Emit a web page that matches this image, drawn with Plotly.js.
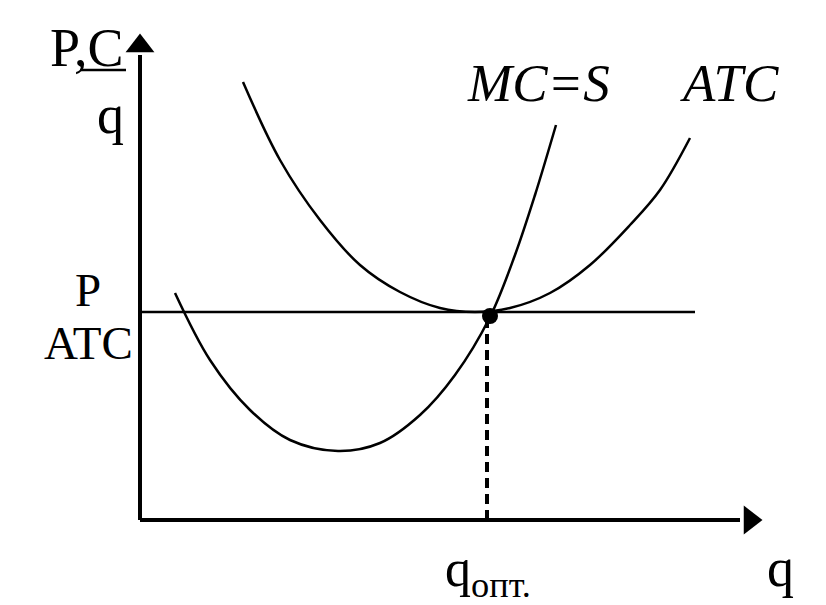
<!DOCTYPE html>
<html>
<head>
<meta charset="utf-8">
<script src="https://cdn.plot.ly/plotly-3.0.1.min.js"></script>
<style>html,body{margin:0;padding:0;background:#fff;}#chart{width:826px;height:605px;}</style>
</head>
<body>
<div id="chart"></div>
<script>
// Marginal cost (MC = S) curve: quantity vs cost
const mcQ = [35, 70, 110, 150, 198, 240, 280, 315, 350, 375, 395, 416];
const mcC = [227, 160, 110, 80, 69, 77, 105, 145, 203, 265, 325, 395];
// Average total cost (ATC) curve
const atcQ = [103, 140, 180, 220, 260, 300, 335, 370, 410, 450, 490, 520, 550];
const atcC = [438, 360, 300, 255, 228, 212, 208, 212, 227, 255, 295, 330, 382];
// Price level (P = min ATC) and optimal quantity
const priceLevel = 208;
const priceQ = [0, 555];
const qOpt = 347;
const eqC = 204;
// Axis extents
const qAxisMax = 600;
const cAxisMax = 465;

const lineStyle = {color: '#000', width: 2.5};

const traces = [
  {x: mcQ, y: mcC, mode: 'lines', line: Object.assign({shape: 'spline'}, lineStyle), hoverinfo: 'skip'},
  {x: atcQ, y: atcC, mode: 'lines', line: Object.assign({shape: 'spline'}, lineStyle), hoverinfo: 'skip'},
  {x: priceQ, y: [priceLevel, priceLevel], mode: 'lines', line: lineStyle, hoverinfo: 'skip'},
  {x: [qOpt, qOpt], y: [0, eqC], mode: 'lines', line: {color: '#000', width: 4, dash: '10px,6px'}, hoverinfo: 'skip'},
  {x: [qOpt + 3], y: [eqC], mode: 'markers', marker: {color: '#000', size: 16}, hoverinfo: 'skip'},
  // axes
  {x: [0, 0], y: [0, cAxisMax], mode: 'lines', line: {color: '#000', width: 4}, hoverinfo: 'skip'},
  {x: [0, qAxisMax], y: [0, 0], mode: 'lines', line: {color: '#000', width: 4}, hoverinfo: 'skip'},
  {x: [0], y: [cAxisMax + 9], mode: 'markers', marker: {symbol: 'triangle-up', color: '#000', size: 25}, hoverinfo: 'skip'},
  {x: [qAxisMax + 10], y: [0], mode: 'markers', marker: {symbol: 'triangle-right', color: '#000', size: 25}, hoverinfo: 'skip'}
];

const serif = 'Liberation Serif';
function ann(x, y, text, size, italic, anchor) {
  return {x: x, y: y, xref: 'x', yref: 'y', text: italic ? '<i>' + text + '</i>' : text,
    showarrow: false, xanchor: anchor || 'center', yanchor: 'middle',
    font: {family: serif, size: size, color: '#000'}};
}

const layout = {
  width: 826, height: 605,
  margin: {l: 0, r: 0, t: 0, b: 0},
  paper_bgcolor: '#fff', plot_bgcolor: '#fff',
  showlegend: false,
  font: {family: serif},
  xaxis: {range: [-140, 686], visible: false, fixedrange: true},
  yaxis: {range: [-85, 520], visible: false, fixedrange: true},
  annotations: [
    ann(-53, 472, 'P,C', 54, false),
    ann(-30, 405, 'q', 54, false),
    ann(398, 437, 'MC=S', 53, true),
    ann(589, 437, 'ATC', 53, true),
    ann(-52, 230, 'P', 47, false),
    ann(-52, 177, 'ATC', 47, false),
    ann(348, -52, 'q<sub>опт.</sub>', 52, false),
    ann(640, -48, 'q', 54, false)
  ],
  shapes: [
    {type: 'line', xref: 'x', yref: 'y', x0: -60, x1: -14, y0: 450, y1: 450, line: {color: '#000', width: 2.5}}
  ]
};

Plotly.newPlot('chart', traces, layout, {staticPlot: true, displayModeBar: false});
</script>
</body>
</html>
